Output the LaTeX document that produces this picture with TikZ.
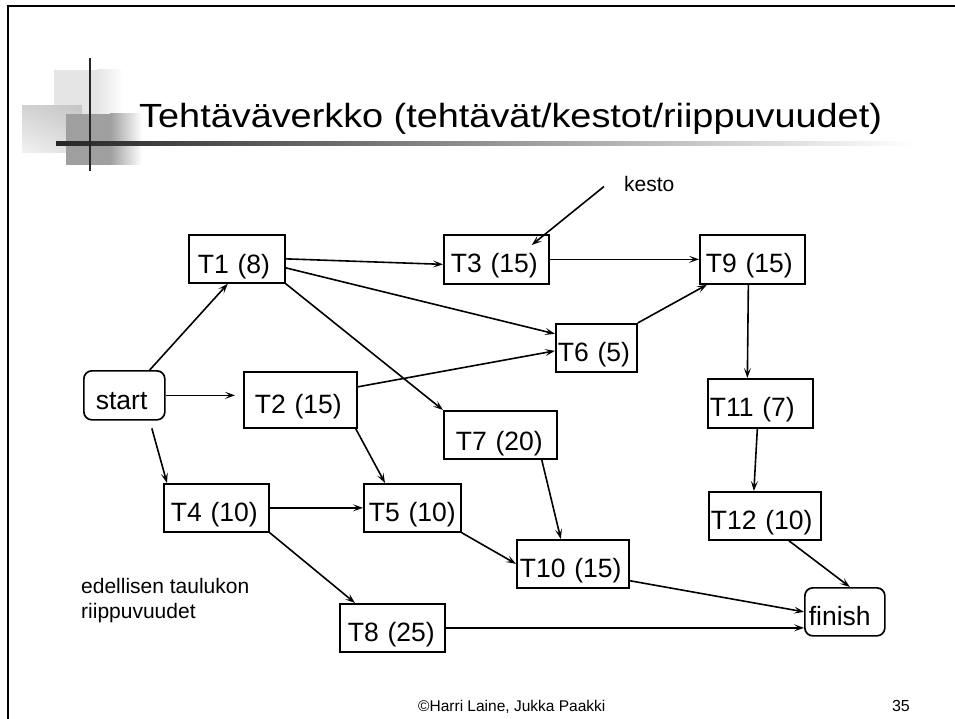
\documentclass[tikz,border=0pt]{standalone}
\usepackage{fontspec}
\setmainfont{Liberation Sans}
\newfontfamily\otsikkofont[FakeStretch=1.13]{Liberation Sans}
\usetikzlibrary{arrows.meta,shadings}

\tikzset{
  tehtava/.style={draw, line width=1.7pt, anchor=north west, align=left,
    font=\fontsize{26.5}{30}\selectfont, inner ysep=0pt,
    text height=38pt, text depth=10pt},
  paate/.style={tehtava, rounded corners=8pt},
  riippuvuus/.style={->, line width=1.6pt},
  teksti/.style={anchor=base west, inner sep=0pt, align=left}
}

\begin{document}
\begin{tikzpicture}[x=1pt, y=-1pt, >={Stealth[length=10pt,width=7pt,inset=4.5pt]}]
  \useasboundingbox (0,0) rectangle (955,719);

  % Kalvon kehys
  \draw[line width=1.6pt] (8,719) -- (8,6) -- (955,6);

  % Otsikon koristeet
  \fill[gray!20] (54,70) rectangle (98,114);
  \shade[left color=gray!20, right color=white] (97,70) rectangle (123,114);
  \shade[upper left=gray!35, upper right=gray!45, lower left=gray!10, lower right=gray!25]
    (22,106) rectangle (82,153);
  \fill[gray!75] (66,114) rectangle (111,165);
  \shade[left color=gray!75, right color=white] (110,114) rectangle (142,165);
  \shade[left color=black!85, right color=white] (56,142) rectangle (915,146);
  \draw[line width=2.5pt, black!85] (90,58) -- (90,171);

  % Otsikko
  \node[teksti, font=\otsikkofont\fontsize{33.5}{40}\selectfont] (otsikko) at (139,128)
    {Tehtäväverkko (tehtävät/kestot/riippuvuudet)};

  % Tehtävät
  \node[paate, text width=57pt, inner xsep=12pt, text height=39pt] (start) at (83,370) {start};
  \node[tehtava, text width=78pt, inner xsep=9pt, text height=39pt, text depth=9pt] (t1) at (188,234) {T1 (8)};
  \node[tehtava, text width=91pt, inner xsep=11pt, text height=42pt, text depth=14pt] (t2) at (243,371) {T2 (15)};
  \node[tehtava, text width=91pt, inner xsep=7pt, text depth=11pt] (t3) at (443,234) {T3 (15)};
  \node[tehtava, text width=87pt, inner xsep=5pt] (t5) at (363,483) {T5 (10)};
  \node[tehtava, text width=91pt, inner xsep=7pt] (t4) at (163,483) {T4 (10)};
  \node[tehtava, text width=77pt, inner xsep=2pt] (t6) at (555,323) {T6 (5)};
  \node[tehtava, text width=89pt, inner xsep=12pt, text height=40pt, text depth=8pt] (t7) at (443,410) {T7 (20)};
  \node[tehtava, text width=89pt, inner xsep=8pt] (t8) at (339,603) {T8 (25)};
  \node[tehtava, text width=93pt, inner xsep=6pt, text depth=11pt] (t9) at (699,234) {T9 (15)};
  \node[tehtava, text width=106pt, inner xsep=3pt] (t10) at (516,539) {T10 (15)};
  \node[tehtava, text width=101pt, inner xsep=2pt, text depth=11pt] (t11) at (707,378) {T11 (7)};
  \node[tehtava, text width=108pt, inner xsep=2pt] (t12) at (708,491) {T12 (10)};
  \node[paate, text width=72pt, inner xsep=4pt] (finish) at (804,587) {finish};

  % Selitteet
  \node[teksti, font=\fontsize{21}{25}\selectfont] (kesto) at (624,192) {kesto};
  \node[teksti, font=\fontsize{21}{25}\selectfont] (selite) at (81,618)
    {edellisen taulukon\\riippuvuudet};

  % Riippuvuudet
  \draw[riippuvuus] (start.45) -- ([xshift=-9pt]t1.south);
  \draw[riippuvuus, shorten >=8pt] (start.east) -- (start.east -| t2.west);
  \draw[riippuvuus, shorten <=8pt] (start.-45) -- ([xshift=4pt]t4.north west);
  \draw[riippuvuus] (t1.east) -- ([yshift=-5pt]t3.west);
  \draw[riippuvuus] ([yshift=-9pt]t1.east) -- ([yshift=14pt]t6.west);
  \draw[riippuvuus] (t1.south east) -- (t7.north west);
  \draw[riippuvuus] ([yshift=13pt]t2.east) -- ([yshift=-3pt]t6.west);
  \draw[riippuvuus] ([xshift=-2pt]t2.south east) -- ([xshift=22pt]t5.north west);
  \draw[riippuvuus] (t3.east) -- (t9.west);
  \draw[riippuvuus] (t6.north east) -- ([xshift=8pt]t9.south west);
  \draw[riippuvuus] ([xshift=-4pt]t9.south) -- ([xshift=-13pt]t11.north);
  \draw[riippuvuus] ([xshift=-3pt]t11.south) -- ([xshift=-11pt]t12.north);
  \draw[riippuvuus] ([xshift=24pt]t12.south) -- ([xshift=5pt]finish.north);
  \draw[riippuvuus] ([xshift=-16pt]t7.south east) -- ([xshift=-12pt]t10.north);
  \draw[riippuvuus] (t5.south east) -- (t10.west);
  \draw[riippuvuus] ([yshift=8pt]t10.south east) -- (finish.west);
  \draw[riippuvuus] (t8.east) -- (t8.east -| finish.west);
  \draw[riippuvuus] (t4.east) -- (t5.west);
  \draw[riippuvuus] (t4.south east) -- ([xshift=16pt]t8.north west);
  \draw[riippuvuus] ([shift={(-20pt,-2pt)}]kesto.west) -- ([shift={(-18pt,-11pt)}]t3.north east);

  % Alatunniste
  \node[teksti, font=\fontsize{15.5}{18}\selectfont] (tekijat) at (418,711) {©Harri Laine, Jukka Paakki};
  \node[teksti, anchor=base east, font=\fontsize{16}{18}\selectfont] (sivu) at (910,711) {35};
\end{tikzpicture}
\end{document}
